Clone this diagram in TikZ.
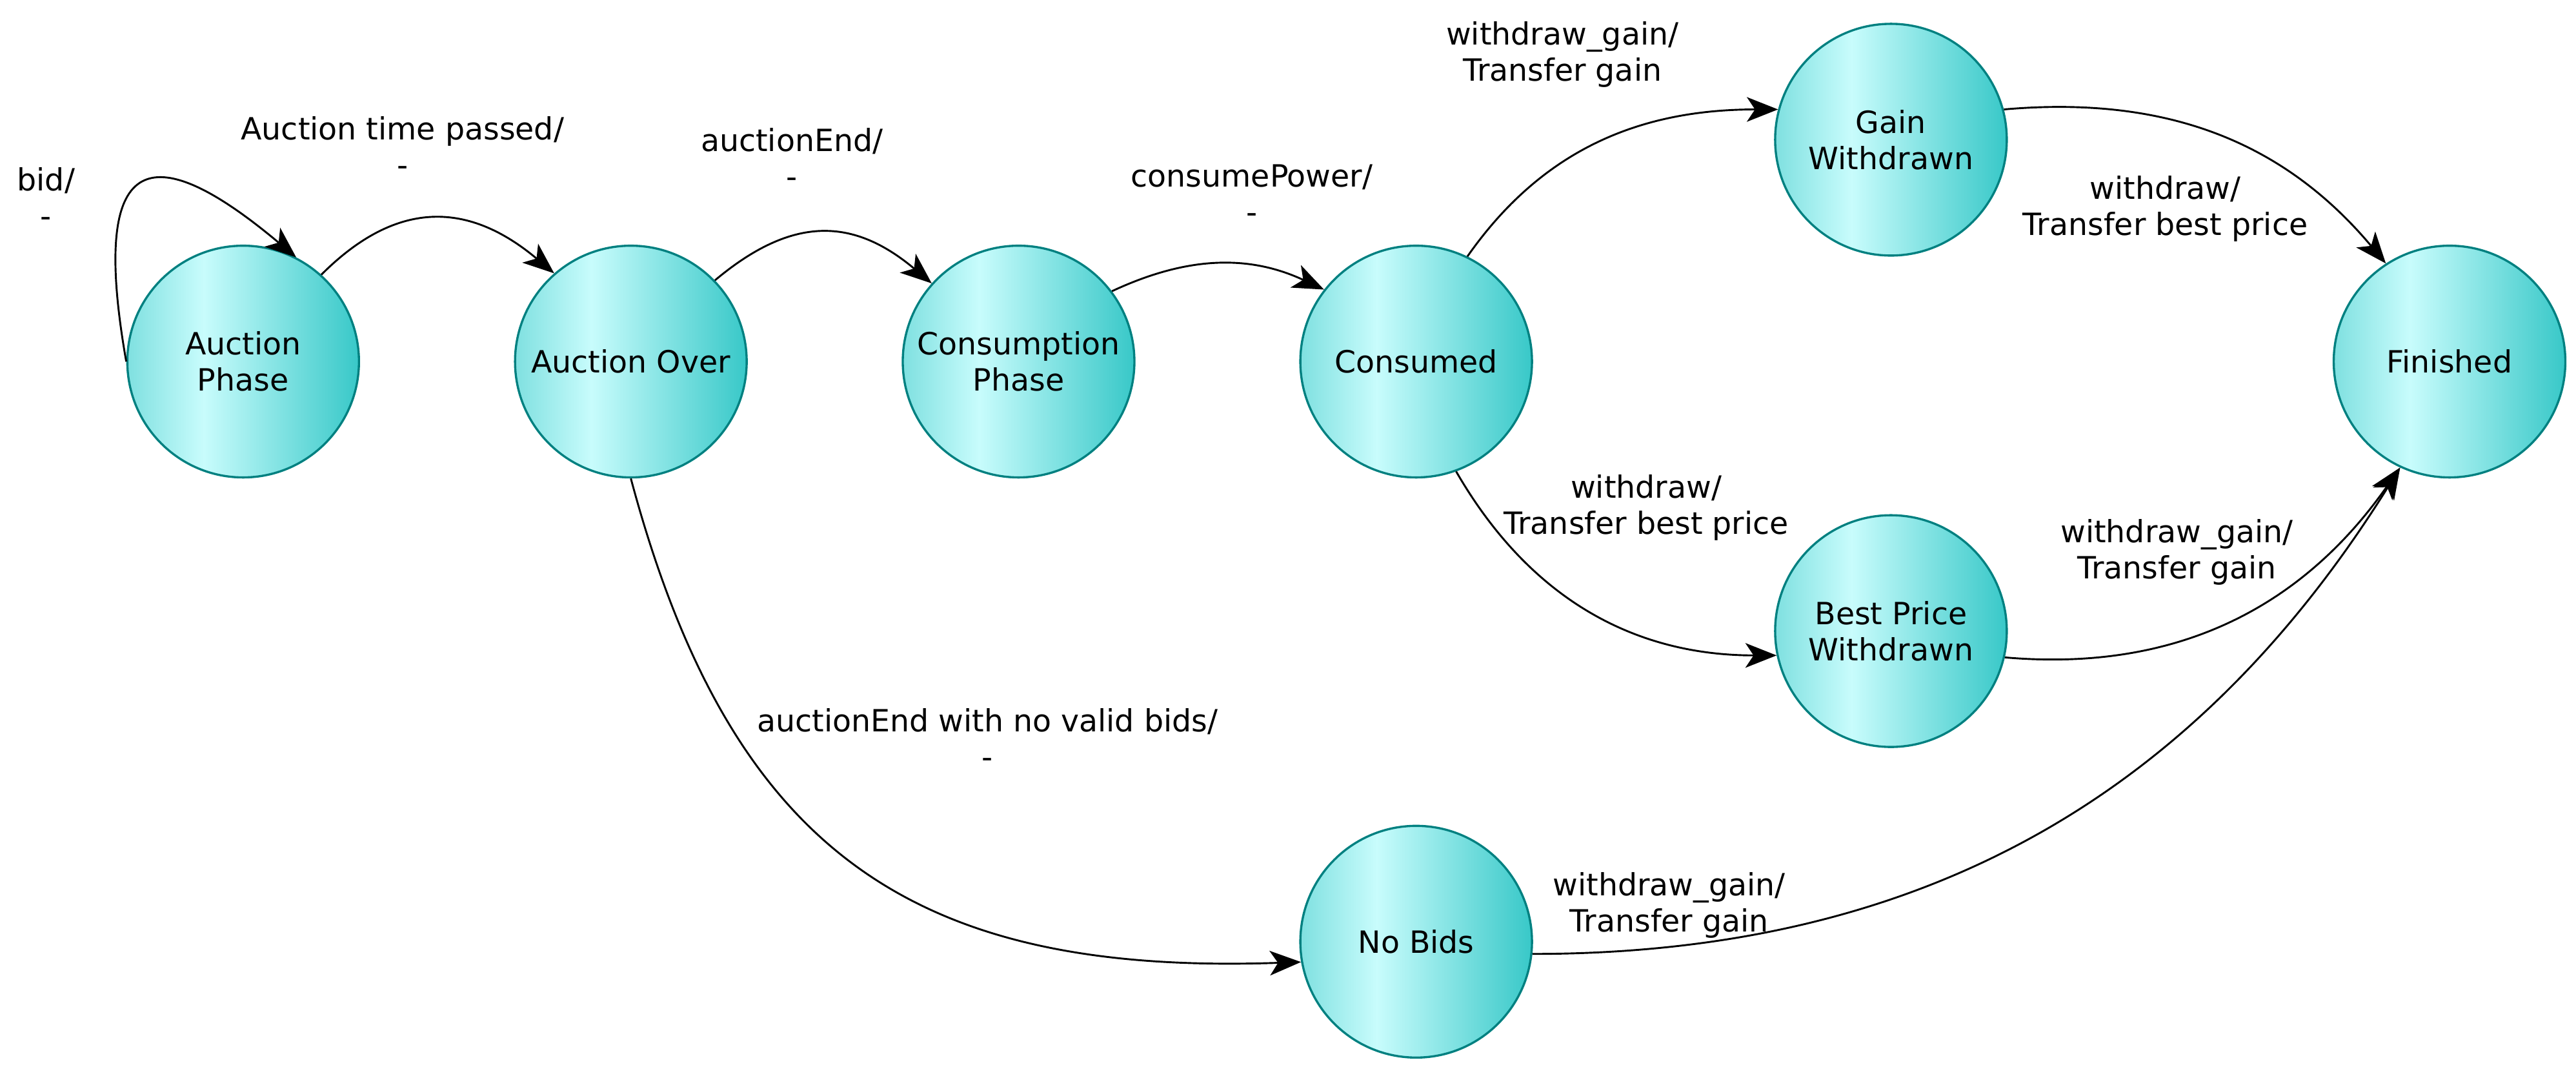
\documentclass[tikz,border=0pt]{standalone}
\usepackage{fontspec}
\setmainfont{DejaVu Sans}
\usetikzlibrary{arrows.meta}
\definecolor{stateline}{RGB}{0,128,128}
\definecolor{stateleft}{HTML}{7FE0E0}
\definecolor{statemid}{HTML}{C8FCFC}
\definecolor{stateright}{HTML}{38C8C8}
\pgfdeclarehorizontalshading{stateshade}{100bp}{color(0bp)=(stateleft); color(25bp)=(stateleft); color(41.5bp)=(statemid); color(75bp)=(stateright); color(100bp)=(stateright)}
\tikzset{
	state/.style={circle, draw=stateline, line width=0.75pt, shading=stateshade, minimum size=2.82cm, inner sep=0pt, align=center, font=\fontsize{10.6}{12.5}\selectfont},
	trans/.style={-{Stealth[length=0.38cm, width=0.30cm, inset=0.1cm]}, line width=0.65pt},
	lbl/.style={align=center, font=\fontsize{10.6}{12.5}\selectfont}
}
\begin{document}
\begin{tikzpicture}
			\useasboundingbox (0,-8.608) rectangle (31.36,4.4);
			\node[state] (auction) at (2.96,0) {Auction\\Phase};
			\node[state] (over) at (7.68,0) {Auction Over};
			\node[state] (consumption) at (12.40,0) {Consumption\\Phase};
			\node[state] (consumed) at (17.24,0) {Consumed};
			\node[state] (gain) at (23.02,2.70) {Gain\\Withdrawn};
			\node[state] (best) at (23.02,-3.28) {Best Price\\Withdrawn};
			\node[state] (nobids) at (17.24,-7.06) {No Bids};
			\node[state] (finished) at (29.82,0) {Finished};
			\draw[trans] (auction.west) to[out=100, in=140, looseness=2.6] (auction.63);
			\draw[trans] (auction.48) to[out=45, in=140, looseness=1.2] (over.131);
			\draw[trans] (over.44) to[out=40, in=140, looseness=1.2] (consumption.138);
			\draw[trans] (consumption.37) to[out=25, in=155] (consumed.142);
			\draw[trans] (consumed.64) to[out=55, in=180] (gain.165);
			\draw[trans] (gain.15) to[out=5, in=130] (finished.123);
			\draw[trans] (consumed.-70) to[out=-60, in=180] (best.192);
			\draw[trans] (best.-13) to[out=-5, in=-125] (finished.-115);
			\draw[trans] (over.south) to[out=-75, in=182, looseness=1.2] (nobids.190);
			\draw[trans] (nobids.-6) to[out=0, in=-122] (finished.-115);
			\node[lbl] (bidlbl) at (0.56,2.0) {bid/\\-};
			\node[lbl] (timelbl) at (4.90,2.62) {Auction time passed/\\-};
			\node[lbl] (endlbl) at (9.64,2.48) {auctionEnd/\\-};
			\node[lbl] (powerlbl) at (15.24,2.04) {consumePower/\\-};
			\node[lbl] (gainlbl) at (19.02,3.74) {withdraw\_gain/\\Transfer gain};
			\node[lbl] (bestlbl) at (26.36,1.86) {withdraw/\\Transfer best price};
			\node[lbl] (withdrawlbl) at (20.04,-1.78) {withdraw/\\Transfer best price};
			\node[lbl] (finlbl) at (26.50,-2.32) {withdraw\_gain/\\Transfer gain};
			\node[lbl] (novalidlbl) at (12.02,-4.58) {auctionEnd with no valid bids/\\-};
			\node[lbl] (nobidslbl) at (20.32,-6.62) {withdraw\_gain/\\Transfer gain};
		\end{tikzpicture}
\end{document}
